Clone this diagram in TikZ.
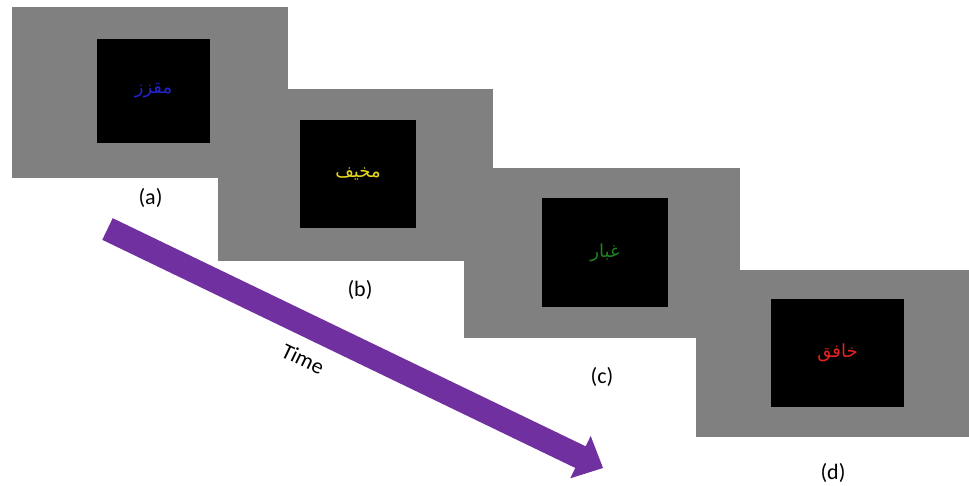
\documentclass[tikz,border=0pt]{standalone}
\usepackage{fontspec}
\setmainfont{Carlito}
\newfontfamily\arabicfont[Script=Arabic]{DejaVu Sans}
\TeXXeTstate=1
\usetikzlibrary{calc}
\definecolor{panelgray}{HTML}{808080}
\definecolor{wordblue}{RGB}{35,35,210}
\definecolor{wordyellow}{RGB}{230,215,30}
\definecolor{wordgreen}{RGB}{30,130,30}
\definecolor{wordred}{RGB}{230,35,35}
\definecolor{timepurple}{HTML}{7030A0}
\begin{document}
\begin{tikzpicture}[x=1pt,y=-1pt,
  panel/.style={fill=panelgray, draw=none},
  screen/.style={fill=black, draw=none, inner sep=0pt,
    font=\arabicfont\fontsize{18}{20}\selectfont},
  caption/.style={font=\fontsize{22}{25}\selectfont, inner sep=0pt},
  timearrow/.style={fill=timepurple, draw=none}]
\useasboundingbox (0,0) rectangle (969,486);
\fill[white] (0,0) rectangle (969,486);
% gray panels
\fill[panel] (12,7) rectangle (288,178);
\fill[panel] (218,89) rectangle (493,261);
\fill[panel] (464,168) rectangle (740,338);
\fill[panel] (696,270) rectangle (969,437);
% black screens with words
\node[screen, text=wordblue, minimum width=113pt, minimum height=104pt] (sa) at (153.5,91) {\beginR مقزز\endR};
\node[screen, text=wordyellow, minimum width=116pt, minimum height=108pt] (sb) at (358,174) {\beginR مخيف\endR};
\node[screen, text=wordgreen, minimum width=126pt, minimum height=109pt] (sc) at (605,252.5) {\beginR غبار\endR};
\node[screen, text=wordred, minimum width=133pt, minimum height=108pt] (sd) at (837.5,353) {\beginR خافق\endR};
% captions
\node[caption] (la) at (150.5,197.5) {(a)};
\node[caption] (lb) at (360,290) {(b)};
\node[caption] (lc) at (602,377) {(c)};
\node[caption] (ld) at (833,473) {(d)};
% time arrow
\coordinate (tstart) at (107.5,229);
\coordinate (tend) at (603,468);
\coordinate (tbase) at ($(tend)!25pt!(tstart)$);
\fill[timearrow] ($(tstart)!12pt!90:(tend)$) -- ($(tbase)!12pt!90:(tend)$)
  -- ($(tbase)!23.5pt!90:(tend)$) -- (tend) -- ($(tbase)!23.5pt!-90:(tend)$)
  -- ($(tbase)!12pt!-90:(tend)$) -- ($(tstart)!12pt!-90:(tend)$) -- cycle;
\node[caption, rotate=-25.75] (time) at (303,359) {Time};
\end{tikzpicture}
\end{document}
